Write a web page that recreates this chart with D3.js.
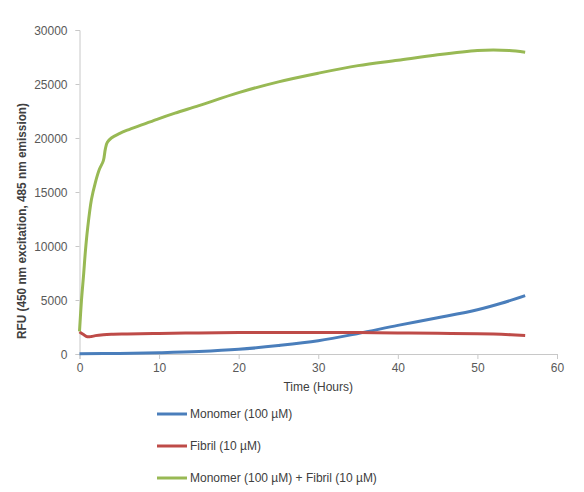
<!DOCTYPE html>
<html>
<head>
<meta charset="utf-8">
<script src="https://cdn.jsdelivr.net/npm/d3@7"></script>
<style>
  body { margin: 0; background: #fff; }
  text { font-family: "Liberation Sans", Arial, sans-serif; }
</style>
</head>
<body>
<div id="chart"></div>
<script>
// chart size
var svgWidth = 584;
var svgHeight = 492;

var margin = { top: 30, right: 27, bottom: 138, left: 79.5 };
var width = svgWidth - margin.left - margin.right;
var height = svgHeight - margin.top - margin.bottom;

// data
var seriesNames = ["Monomer (100 \u00b5M)", "Fibril (10 \u00b5M)", "Monomer (100 \u00b5M) + Fibril (10 \u00b5M)"];
var seriesColors = ["#4a7ebb", "#be4b48", "#98b954"];

var monomerHours = [0, 5, 10, 15, 20, 25, 30, 35, 40, 45, 50, 53, 56];
var monomerRFU = [30, 50, 120, 230, 430, 780, 1230, 1900, 2650, 3350, 4100, 4700, 5400];

var fibrilHours = [0, 0.5, 1, 1.5, 2, 3, 4, 6, 10, 15, 20, 25, 30, 35, 40, 45, 50, 53, 56];
var fibrilRFU = [2050, 1800, 1600, 1620, 1700, 1780, 1820, 1850, 1900, 1950, 1985, 2000, 2000, 1980, 1950, 1920, 1880, 1820, 1720];

var mixHours = [0, 0.25, 0.5, 0.75, 1, 1.5, 2, 2.5, 3, 3.25, 3.5, 4, 5, 6, 8, 10, 12, 15, 20, 25, 30, 35, 40, 45, 50, 52, 54, 56];
var mixRFU = [2100, 5000, 7200, 9600, 11500, 14300, 15900, 17100, 17900, 19000, 19600, 20000, 20400, 20720, 21260, 21800, 22300, 23000, 24200, 25200, 26000, 26700, 27200, 27700, 28100, 28150, 28100, 27950];

var xTicks = [0, 10, 20, 30, 40, 50, 60];
var yTicks = [0, 5000, 10000, 15000, 20000, 25000, 30000];

var allSeries = [
  { hours: monomerHours, rfu: monomerRFU },
  { hours: fibrilHours, rfu: fibrilRFU },
  { hours: mixHours, rfu: mixRFU }
];

var svg = d3.select("#chart")
  .append("svg")
  .attr("width", svgWidth)
  .attr("height", svgHeight);

var chartGroup = svg.append("g")
  .attr("transform", `translate(${margin.left}, ${margin.top})`);

var xScale = d3.scaleLinear().domain([0, 60]).range([0, width]);
var yScale = d3.scaleLinear().domain([0, 30000]).range([height, 0]);

// axes
var bottomAxis = d3.axisBottom(xScale).tickValues(xTicks).tickFormat(d3.format("d"))
  .tickSizeOuter(0).tickSize(5).tickPadding(4);
var leftAxis = d3.axisLeft(yScale).tickValues(yTicks).tickFormat(d3.format("d"))
  .tickSizeOuter(0).tickSize(4).tickPadding(8);

var xAxis = chartGroup.append("g")
  .attr("transform", `translate(0, ${height})`)
  .call(bottomAxis);

var yAxis = chartGroup.append("g")
  .call(leftAxis);

[xAxis, yAxis].forEach(function (ax) {
  ax.select(".domain").attr("stroke", "#c8c8c8");
  ax.selectAll(".tick line").attr("stroke", "#c8c8c8");
  ax.selectAll(".tick text")
    .attr("fill", "#595959")
    .style("font-size", "12px");
});
yAxis.selectAll(".tick text").attr("dy", "0.36em");

// lines (Excel-like smoothing)
var line = d3.line()
  .x(d => xScale(d[0]))
  .y(d => yScale(d[1]))
  .curve(d3.curveCatmullRom.alpha(0.5));

allSeries.forEach(function (s, i) {
  var pts = s.hours.map((h, j) => [h, s.rfu[j]]);
  chartGroup.append("path")
    .datum(pts)
    .attr("fill", "none")
    .attr("stroke", seriesColors[i])
    .attr("stroke-width", 3)
    .attr("stroke-linejoin", "round")
    .attr("d", line);
});

// axis titles
svg.append("text")
  .attr("x", margin.left + width / 2)
  .attr("y", 391)
  .attr("text-anchor", "middle")
  .attr("fill", "#404040")
  .style("font-size", "12px")
  .text("Time (Hours)");

svg.append("text")
  .attr("transform", "translate(26, 221) rotate(-90)")
  .attr("text-anchor", "middle")
  .attr("fill", "#404040")
  .attr("textLength", 236)
  .attr("lengthAdjust", "spacingAndGlyphs")
  .style("font-size", "12.5px")
  .style("font-weight", "bold")
  .text("RFU (450 nm excitation, 485 nm emission)");

// legend
var legend = svg.append("g");
seriesNames.forEach(function (name, i) {
  var ly = 414 + i * 32;
  legend.append("line")
    .attr("x1", 157).attr("x2", 187)
    .attr("y1", ly).attr("y2", ly)
    .attr("stroke", seriesColors[i])
    .attr("stroke-width", 3);
  legend.append("text")
    .attr("x", 190)
    .attr("y", ly)
    .attr("dy", "0.36em")
    .attr("fill", "#404040")
    .style("font-size", "12px")
    .text(name);
});
</script>
</body>
</html>
